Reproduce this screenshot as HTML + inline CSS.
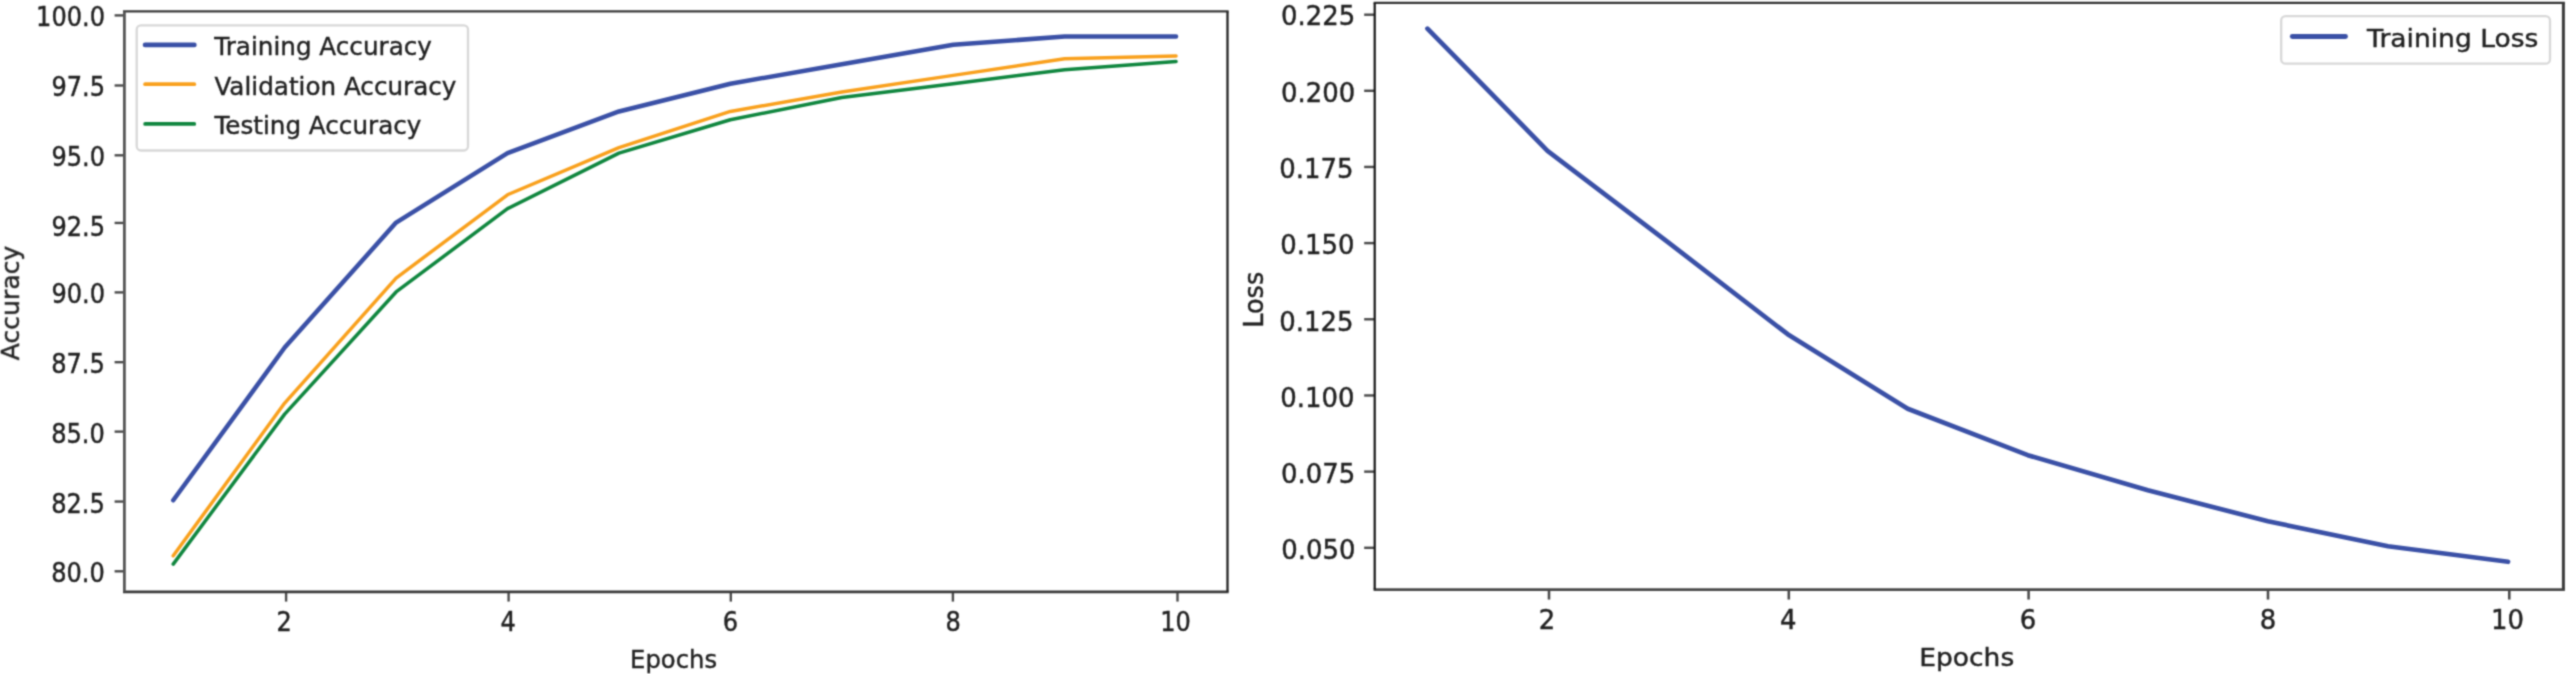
<!DOCTYPE html>
<html lang="en"><head><meta charset="utf-8"><title>Training curves</title>
<style>
html,body{margin:0;padding:0;background:#ffffff;}
body{width:2567px;height:674px;overflow:hidden;}
svg{display:block;}
svg text{font-family:"DejaVu Sans","Liberation Sans",sans-serif;font-size:24.65px;fill:#202020;stroke:#202020;stroke-width:0.4px;}
</style></head><body>
<svg width="2567" height="674" viewBox="0 0 2567 674">
<defs><filter id="soft" x="0" y="0" width="2567" height="674" filterUnits="userSpaceOnUse" color-interpolation-filters="sRGB"><feConvolveMatrix order="5" kernelMatrix="0.00009 0.00198 0.00548 0.00198 0.00009 0.00198 0.04220 0.11707 0.04220 0.00198 0.00548 0.11707 0.32480 0.11707 0.00548 0.00198 0.04220 0.11707 0.04220 0.00198 0.00009 0.00198 0.00548 0.00198 0.00009" edgeMode="duplicate" preserveAlpha="true"/></filter></defs>
<rect width="2567" height="674" fill="#ffffff"/>
<g filter="url(#soft)">
<rect width="2567" height="674" fill="#ffffff"/>
<polyline points="173.24,500.25 284.67,347.51 396.09,222.54 507.51,153.12 618.94,111.46 730.36,83.69 841.79,64.25 953.21,44.81 1064.63,36.48 1176.06,36.48" fill="none" stroke="#3a50a6" stroke-width="4.51" stroke-linejoin="round" stroke-linecap="round"/>
<polyline points="173.24,555.79 284.67,403.05 396.09,278.08 507.51,194.77 618.94,147.56 730.36,111.46 841.79,92.02 953.21,75.36 1064.63,58.70 1176.06,55.92" fill="none" stroke="#f9a01c" stroke-width="3.48" stroke-linejoin="round" stroke-linecap="round"/>
<polyline points="173.24,564.12 284.67,414.16 396.09,291.97 507.51,208.66 618.94,153.12 730.36,119.79 841.79,97.58 953.21,83.69 1064.63,69.81 1176.06,61.48" fill="none" stroke="#0f863e" stroke-width="3.48" stroke-linejoin="round" stroke-linecap="round"/>
<line x1="286.10" y1="591.80" x2="286.10" y2="601.60" stroke="#4a4a4a" stroke-width="2.39" stroke-linecap="butt"/>
<text transform="translate(284.28,630.88) scale(0.9770,1.0762)" text-anchor="middle">2</text>
<line x1="508.60" y1="591.80" x2="508.60" y2="601.60" stroke="#4a4a4a" stroke-width="2.39" stroke-linecap="butt"/>
<text transform="translate(508.17,630.88) scale(0.9770,1.0762)" text-anchor="middle">4</text>
<line x1="730.80" y1="591.80" x2="730.80" y2="601.60" stroke="#4a4a4a" stroke-width="2.39" stroke-linecap="butt"/>
<text transform="translate(730.43,630.88) scale(0.9770,1.0762)" text-anchor="middle">6</text>
<line x1="952.90" y1="591.80" x2="952.90" y2="601.60" stroke="#4a4a4a" stroke-width="2.39" stroke-linecap="butt"/>
<text transform="translate(953.20,630.88) scale(0.9770,1.0762)" text-anchor="middle">8</text>
<line x1="1177.50" y1="591.80" x2="1177.50" y2="601.60" stroke="#4a4a4a" stroke-width="2.39" stroke-linecap="butt"/>
<text transform="translate(1175.52,630.88) scale(0.9770,1.0762)" text-anchor="middle">10</text>
<line x1="114.60" y1="571.30" x2="124.40" y2="571.30" stroke="#4a4a4a" stroke-width="2.39" stroke-linecap="butt"/>
<text transform="translate(104.75,581.95) scale(0.9770,1.0762)" text-anchor="end">80.0</text>
<line x1="114.60" y1="501.55" x2="124.40" y2="501.55" stroke="#4a4a4a" stroke-width="2.39" stroke-linecap="butt"/>
<text transform="translate(104.75,512.70) scale(0.9770,1.0762)" text-anchor="end">82.5</text>
<line x1="114.60" y1="431.62" x2="124.40" y2="431.62" stroke="#4a4a4a" stroke-width="2.39" stroke-linecap="butt"/>
<text transform="translate(104.75,442.77) scale(0.9770,1.0762)" text-anchor="end">85.0</text>
<line x1="114.60" y1="362.19" x2="124.40" y2="362.19" stroke="#4a4a4a" stroke-width="2.39" stroke-linecap="butt"/>
<text transform="translate(104.75,373.14) scale(0.9770,1.0762)" text-anchor="end">87.5</text>
<line x1="114.60" y1="292.40" x2="124.40" y2="292.40" stroke="#4a4a4a" stroke-width="2.39" stroke-linecap="butt"/>
<text transform="translate(105.05,303.15) scale(0.9770,1.0762)" text-anchor="end">90.0</text>
<line x1="114.60" y1="222.94" x2="124.40" y2="222.94" stroke="#4a4a4a" stroke-width="2.39" stroke-linecap="butt"/>
<text transform="translate(105.05,235.59) scale(0.9770,1.0762)" text-anchor="end">92.5</text>
<line x1="114.60" y1="155.32" x2="124.40" y2="155.32" stroke="#4a4a4a" stroke-width="2.39" stroke-linecap="butt"/>
<text transform="translate(105.05,166.47) scale(0.9770,1.0762)" text-anchor="end">95.0</text>
<line x1="114.60" y1="85.49" x2="124.40" y2="85.49" stroke="#4a4a4a" stroke-width="2.39" stroke-linecap="butt"/>
<text transform="translate(105.05,96.44) scale(0.9770,1.0762)" text-anchor="end">97.5</text>
<line x1="114.60" y1="15.40" x2="124.40" y2="15.40" stroke="#4a4a4a" stroke-width="2.39" stroke-linecap="butt"/>
<text transform="translate(105.05,25.85) scale(0.9770,1.0762)" text-anchor="end">100.0</text>
<line x1="123.00" y1="11.40" x2="1228.65" y2="11.40" stroke="#383838" stroke-width="2.40" stroke-linecap="butt"/>
<line x1="123.00" y1="591.80" x2="1228.65" y2="591.80" stroke="#3a3a3a" stroke-width="2.80" stroke-linecap="butt"/>
<line x1="124.40" y1="11.40" x2="124.40" y2="591.80" stroke="#555555" stroke-width="2.80" stroke-linecap="butt"/>
<line x1="1227.50" y1="11.40" x2="1227.50" y2="591.80" stroke="#222222" stroke-width="2.30" stroke-linecap="butt"/>
<text transform="translate(673.60,667.70) scale(0.9850,1.0250)" text-anchor="middle">Epochs</text>
<text transform="translate(18.50,303.00) rotate(-90) scale(1.0200,1.0250)" text-anchor="middle">Accuracy</text>
<rect x="136.70" y="25.40" width="331.30" height="125.10" rx="4.20" ry="4.20" fill="#ffffff" fill-opacity="0.8" stroke="#d8d8d8" stroke-width="2.3"/>
<line x1="145.10" y1="44.90" x2="194.30" y2="44.90" stroke="#3a50a6" stroke-width="4.80" stroke-linecap="round"/>
<text transform="translate(214.30,55.30) scale(1.0000,1.0250)" text-anchor="start">Training Accuracy</text>
<line x1="145.10" y1="84.20" x2="194.30" y2="84.20" stroke="#f9a01c" stroke-width="3.70" stroke-linecap="round"/>
<text transform="translate(214.40,94.80) scale(1.0000,1.0250)" text-anchor="start">Validation Accuracy</text>
<line x1="145.10" y1="123.90" x2="194.30" y2="123.90" stroke="#0f863e" stroke-width="3.70" stroke-linecap="round"/>
<text transform="translate(214.40,134.20) scale(1.0000,1.0250)" text-anchor="start">Testing Accuracy</text>
<polyline points="1427.43,28.62 1547.50,150.79 1667.57,241.89 1787.64,334.21 1907.71,408.71 2027.79,455.17 2147.86,490.21 2267.93,521.29 2388.00,546.27 2508.07,561.81" fill="none" stroke="#3a50a6" stroke-width="4.66" stroke-linejoin="round" stroke-linecap="round"/>
<line x1="1549.00" y1="589.60" x2="1549.00" y2="599.55" stroke="#4a4a4a" stroke-width="2.57" stroke-linecap="butt"/>
<text transform="translate(1546.90,629.34) scale(1.0513,1.0664)" text-anchor="middle">2</text>
<line x1="1788.80" y1="589.60" x2="1788.80" y2="599.55" stroke="#4a4a4a" stroke-width="2.57" stroke-linecap="butt"/>
<text transform="translate(1788.30,629.34) scale(1.0513,1.0664)" text-anchor="middle">4</text>
<line x1="2028.60" y1="589.60" x2="2028.60" y2="599.55" stroke="#4a4a4a" stroke-width="2.57" stroke-linecap="butt"/>
<text transform="translate(2028.02,629.34) scale(1.0513,1.0664)" text-anchor="middle">6</text>
<line x1="2268.00" y1="589.60" x2="2268.00" y2="599.55" stroke="#4a4a4a" stroke-width="2.57" stroke-linecap="butt"/>
<text transform="translate(2267.90,629.34) scale(1.0513,1.0664)" text-anchor="middle">8</text>
<line x1="2509.30" y1="589.60" x2="2509.30" y2="599.55" stroke="#4a4a4a" stroke-width="2.57" stroke-linecap="butt"/>
<text transform="translate(2507.40,629.34) scale(1.0513,1.0664)" text-anchor="middle">10</text>
<line x1="1364.16" y1="547.80" x2="1374.70" y2="547.80" stroke="#4a4a4a" stroke-width="2.43" stroke-linecap="butt"/>
<text transform="translate(1355.49,558.90) scale(1.0513,1.0664)" text-anchor="end">0.050</text>
<line x1="1364.16" y1="471.63" x2="1374.70" y2="471.63" stroke="#4a4a4a" stroke-width="2.43" stroke-linecap="butt"/>
<text transform="translate(1355.19,482.93) scale(1.0513,1.0664)" text-anchor="end">0.075</text>
<line x1="1364.16" y1="395.46" x2="1374.70" y2="395.46" stroke="#4a4a4a" stroke-width="2.43" stroke-linecap="butt"/>
<text transform="translate(1354.39,406.76) scale(1.0513,1.0664)" text-anchor="end">0.100</text>
<line x1="1364.16" y1="319.28" x2="1374.70" y2="319.28" stroke="#4a4a4a" stroke-width="2.43" stroke-linecap="butt"/>
<text transform="translate(1353.39,330.59) scale(1.0513,1.0664)" text-anchor="end">0.125</text>
<line x1="1364.16" y1="243.11" x2="1374.70" y2="243.11" stroke="#4a4a4a" stroke-width="2.43" stroke-linecap="butt"/>
<text transform="translate(1354.39,254.41) scale(1.0513,1.0664)" text-anchor="end">0.150</text>
<line x1="1364.16" y1="166.94" x2="1374.70" y2="166.94" stroke="#4a4a4a" stroke-width="2.43" stroke-linecap="butt"/>
<text transform="translate(1353.39,178.24) scale(1.0513,1.0664)" text-anchor="end">0.175</text>
<line x1="1364.16" y1="90.77" x2="1374.70" y2="90.77" stroke="#4a4a4a" stroke-width="2.43" stroke-linecap="butt"/>
<text transform="translate(1355.29,102.07) scale(1.0513,1.0664)" text-anchor="end">0.200</text>
<line x1="1364.16" y1="14.70" x2="1374.70" y2="14.70" stroke="#4a4a4a" stroke-width="2.43" stroke-linecap="butt"/>
<text transform="translate(1355.19,25.20) scale(1.0513,1.0664)" text-anchor="end">0.225</text>
<line x1="1373.60" y1="2.90" x2="2564.90" y2="2.90" stroke="#333333" stroke-width="2.20" stroke-linecap="butt"/>
<line x1="1373.60" y1="589.60" x2="2564.90" y2="589.60" stroke="#484848" stroke-width="2.80" stroke-linecap="butt"/>
<line x1="1374.70" y1="2.90" x2="1374.70" y2="589.60" stroke="#151515" stroke-width="2.20" stroke-linecap="butt"/>
<line x1="2563.40" y1="2.90" x2="2563.40" y2="589.60" stroke="#3a3a3a" stroke-width="3.00" stroke-linecap="butt"/>
<text transform="translate(1966.70,666.40) scale(1.0760,1.0404)" text-anchor="middle">Epochs</text>
<text transform="translate(1263.10,299.80) rotate(-90) scale(1.0353,1.1029)" text-anchor="middle">Loss</text>
<rect x="2281.20" y="16.20" width="268.80" height="47.50" rx="4.52" ry="4.26" fill="#ffffff" fill-opacity="0.8" stroke="#d8d8d8" stroke-width="2.3"/>
<line x1="2292.30" y1="36.50" x2="2345.50" y2="36.50" stroke="#3a50a6" stroke-width="4.87" stroke-linecap="round"/>
<text transform="translate(2367.10,47.10) scale(1.0760,1.0404)" text-anchor="start">Training Loss</text>
</g>
</svg>
</body></html>
